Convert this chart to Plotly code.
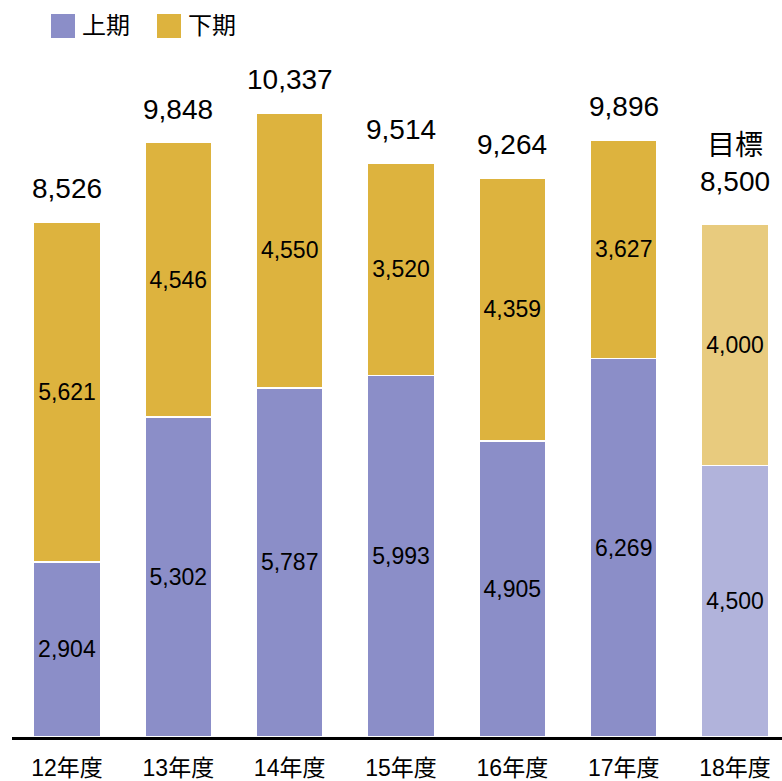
import plotly.graph_objects as go

categories = ["12年度", "13年度", "14年度", "15年度", "16年度", "17年度", "18年度"]
first_half = [2904, 5302, 5787, 5993, 4905, 6269, 4500]
second_half = [5621, 4546, 4550, 3520, 4359, 3627, 4000]
totals = [8526, 9848, 10337, 9514, 9264, 9896, 8500]
total_labels = ["8,526", "9,848", "10,337", "9,514", "9,264", "9,896", "目標<br>8,500"]
series_names = ["上期", "下期"]

PURPLE = "#8B8EC8"
GOLD = "#DDB33E"
PURPLE_LIGHT = "#B1B3DB"
GOLD_LIGHT = "#E8CB7E"

FONT = "Liberation Sans, Arial, Noto Sans CJK JP, sans-serif"

def fmt(v):
    return f"{v:,}"

purple_colors = [PURPLE] * (len(categories) - 1) + [PURPLE_LIGHT]
gold_colors = [GOLD] * (len(categories) - 1) + [GOLD_LIGHT]

fig = go.Figure()
fig.add_trace(go.Bar(
    x=categories, y=first_half, name=series_names[0],
    marker=dict(color=purple_colors, line=dict(color="white", width=1.5)),
    text=[fmt(v) for v in first_half], textposition="inside",
    insidetextanchor="middle", textangle=0,
    textfont=dict(size=23, color="black", family=FONT),
))
fig.add_trace(go.Bar(
    x=categories, y=second_half, name=series_names[1],
    marker=dict(color=gold_colors, line=dict(color="white", width=1.5)),
    text=[fmt(v) for v in second_half], textposition="inside",
    insidetextanchor="middle", textangle=0,
    textfont=dict(size=23, color="black", family=FONT),
))

# totals above each stack (the target year sits a little higher)
for i, (cat, tot, lab) in enumerate(zip(categories, totals, total_labels)):
    fig.add_annotation(
        x=cat, y=tot, text=lab, showarrow=False,
        yanchor="bottom", yshift=25 if i == len(categories) - 1 else 16,
        font=dict(size=28, color="black", family=FONT),
    )

# legend drawn as squares with labels along the top
W, H = 782, 781
ML, MB, MT = 12, 44, 43
PW, PH = W - ML, H - MB - MT
legend_items = [(series_names[0], PURPLE, 51), (series_names[1], GOLD, 157)]
for name, color, px in legend_items:
    fig.add_shape(
        type="rect", xref="paper", yref="paper",
        x0=(px - ML) / PW, x1=(px + 24 - ML) / PW,
        y0=(H - MB - 38) / PH, y1=(H - MB - 14) / PH,
        fillcolor=color, line=dict(width=0),
    )
    fig.add_annotation(
        xref="paper", yref="paper", x=(px + 29 - ML) / PW, y=(H - MB - 26) / PH,
        text=name, showarrow=False, xanchor="left", yanchor="middle",
        font=dict(size=24, color="black", family=FONT),
    )

fig.update_layout(
    barmode="stack",
    bargap=0.4,
    width=W, height=H,
    margin=dict(l=ML, r=0, t=MT, b=MB),
    plot_bgcolor="white", paper_bgcolor="white",
    showlegend=False,
    font=dict(family=FONT, color="black"),
    xaxis=dict(
        range=[-0.494, 6.422], showline=True, linecolor="black", linewidth=3,
        ticks="", tickfont=dict(size=23, color="black", family=FONT),
        ticklabelstandoff=8, showgrid=False,
    ),
    yaxis=dict(range=[0, 11500], visible=False, showgrid=False),
)

fig.write_html("out.html")
